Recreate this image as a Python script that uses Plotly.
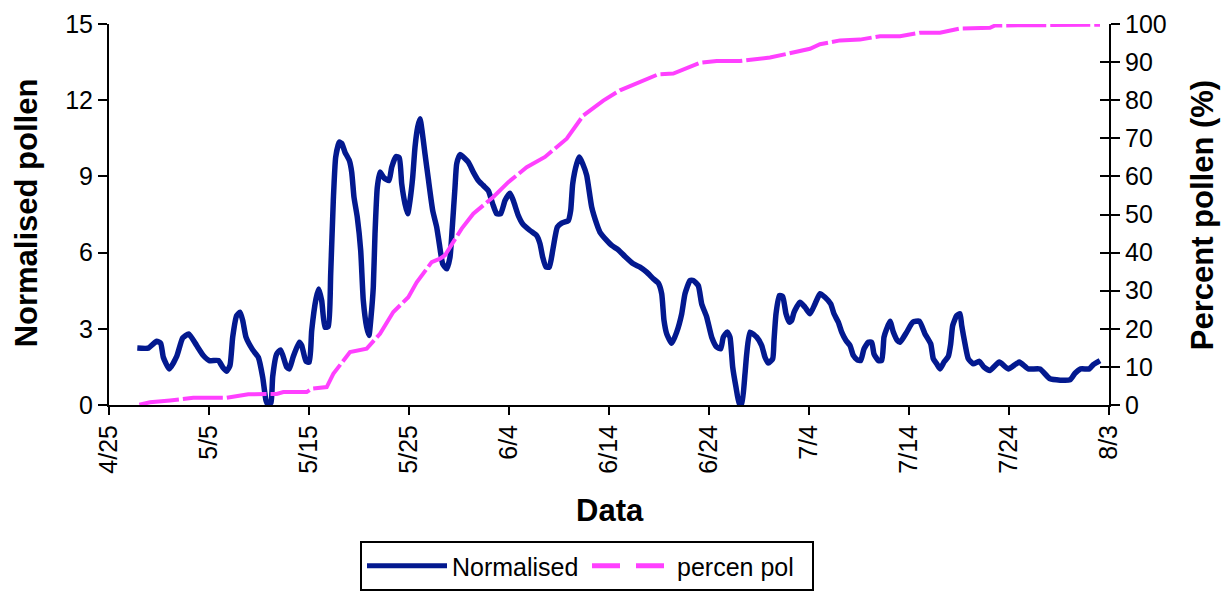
import plotly.graph_objects as go

# x = days since 4/25
tick_vals = [0, 10, 20, 30, 40, 50, 60, 70, 80, 90, 100]
tick_text = ["4/25", "5/5", "5/15", "5/25", "6/4", "6/14", "6/24", "7/4", "7/14", "7/24", "8/3"]

norm_days = [2.83, 3.93, 4.77, 5.17, 5.43, 6.03, 6.77, 7.37, 7.97, 8.77, 9.43, 10.03, 10.93, 11.37, 11.77,
             12.1, 12.37, 12.77, 13.1, 13.37, 13.7, 14.37, 14.93, 15.37, 15.7, 15.93, 16.2, 16.37, 16.77,
             17.17, 17.77, 18.03, 18.43, 19.03, 19.27, 19.7, 20.03, 20.27, 20.7, 20.97, 21.27, 21.6, 21.93,
             22.17, 22.43, 22.67, 23.03, 23.27, 23.6, 24.03, 24.27, 24.5, 24.83, 25.17, 25.43, 25.77, 26.0,
             26.2, 26.43, 26.6, 26.83, 27.1, 27.5, 28.0, 28.27, 28.7, 29.03, 29.27, 29.6, 29.87, 30.1, 30.37,
             30.6, 30.87, 31.1, 31.3, 31.6, 31.93, 32.37, 32.77, 33.03, 33.37, 33.77, 34.1, 34.33, 34.6, 34.77,
             35.1, 35.93, 36.43, 36.93, 37.43, 37.93, 38.37, 38.77, 39.17, 39.6, 40.1, 40.43, 40.93, 41.37,
             42.1, 42.77, 43.1, 43.37, 43.7, 44.03, 44.37, 44.83, 45.27, 45.93, 46.17, 46.37, 46.77, 47.03,
             47.37, 47.77, 48.27, 48.77, 49.1, 49.77, 50.27, 50.93, 51.6, 52.43, 53.1, 53.77, 54.43, 54.93,
             55.27, 55.5, 55.77, 56.27, 56.77, 57.27, 57.6, 58.1, 58.43, 58.93, 59.27, 59.77, 60.27, 60.77,
             61.17, 61.43, 61.83, 62.1, 62.37, 62.7, 63.03, 63.27, 63.6, 63.77, 64.1, 64.77, 65.27, 65.6,
             65.93, 66.37, 66.5, 66.7, 67.03, 67.37, 67.7, 68.03, 68.27, 68.5, 69.1, 69.6, 70.1, 70.6, 71.1,
             71.6, 72.17, 72.5, 72.93, 73.27, 73.7, 74.1, 74.43, 74.83, 75.17, 75.5, 75.93, 76.27, 76.5,
             76.93, 77.27, 77.5, 77.77, 78.1, 78.43, 78.83, 79.1, 79.77, 80.37, 81.03, 81.6, 82.17, 82.43,
             82.77, 83.1, 83.5, 83.93, 84.17, 84.37, 84.77, 85.1, 85.27, 85.6, 85.93, 86.43, 87.03, 87.5,
             88.1, 89.03, 89.93, 91.03, 91.93, 93.1, 94.1, 96.1, 96.6, 97.17, 98.03, 98.43, 99.1]
norm_vals = [2.24, 2.24, 2.51, 2.43, 1.88, 1.42, 1.91, 2.64, 2.80, 2.34, 1.95, 1.75, 1.75, 1.49, 1.33,
             1.56, 2.67, 3.52, 3.65, 3.33, 2.67, 2.17, 1.88, 1.09, 0.18, 0.0, 0.1, 1.12, 2.01,
             2.17, 1.49, 1.42, 1.91, 2.47, 2.34, 1.72, 1.69, 2.93, 4.18, 4.57, 4.11, 3.06, 3.09,
             5.17, 8.05, 9.76, 10.35, 10.3, 9.95, 9.63, 9.17, 8.18, 7.39, 6.08, 4.11, 3.06, 2.74,
             3.46, 4.64, 6.74, 8.57, 9.17, 8.94, 8.84, 9.36, 9.78, 9.73, 8.71, 7.92, 7.53, 8.05, 8.97,
             10.15, 10.94, 11.27, 10.81, 9.89, 8.91, 7.66, 7.0, 6.35, 5.56, 5.36, 5.82, 7.0, 8.57, 9.5,
             9.86, 9.56, 9.17, 8.84, 8.64, 8.44, 7.92, 7.53, 7.53, 8.05, 8.34, 8.05, 7.46, 7.13,
             6.87, 6.67, 6.35, 5.82, 5.43, 5.43, 6.08, 7.0, 7.16, 7.26, 7.66, 8.71, 9.5, 9.76,
             9.5, 9.04, 7.79, 7.13, 6.8, 6.48, 6.28, 6.11, 5.85, 5.56, 5.43, 5.23, 4.97, 4.80,
             4.38, 3.33, 2.80, 2.43, 2.87, 3.59, 4.38, 4.90, 4.90, 4.70, 3.98, 3.46, 2.67, 2.28,
             2.21, 2.67, 2.87, 2.67, 1.49, 0.70, 0.05, 0.05, 1.23, 2.01, 2.87, 2.67, 2.34, 1.88,
             1.65, 1.82, 2.54, 3.59, 4.31, 4.27, 3.59, 3.26, 3.33, 3.65, 4.05, 3.85, 3.59, 3.98, 4.38,
             4.24, 3.98, 3.59, 3.26, 2.87, 2.54, 2.34, 1.95, 1.78, 1.75, 2.21, 2.47, 2.47, 2.01,
             1.75, 1.75, 2.67, 3.0, 3.30, 2.87, 2.54, 2.47, 2.87, 3.26, 3.30, 2.80, 2.41, 1.82,
             1.62, 1.42, 1.69, 1.91, 2.41, 3.13, 3.52, 3.59, 3.13, 2.41, 1.82, 1.62, 1.72, 1.49,
             1.36, 1.69, 1.42, 1.69, 1.42, 1.42, 1.03, 0.99, 1.25, 1.42, 1.42, 1.59, 1.75]

pct_days = [3.03, 4.1, 6.1, 8.1, 8.43, 11.77, 13.93, 16.77, 17.43, 19.77, 20.27, 21.77, 22.43, 24.1,
            25.77, 27.1, 28.43, 29.93, 30.77, 32.27, 33.1, 33.6, 34.1, 35.27, 36.43, 38.43, 39.93, 41.77,
            43.6, 45.77, 47.43, 49.43, 51.1, 53.1, 54.93, 56.43, 59.1, 60.77, 63.1, 66.1, 70.1, 71.1,
            73.1, 75.1, 77.1, 79.1, 81.1, 83.1, 85.1, 88.1, 88.6, 99.1]
pct_vals = [0.1, 0.7, 1.2, 1.6, 1.9, 1.9, 2.8, 2.9, 3.4, 3.4, 4.3, 4.7, 8.2, 13.9,
            14.8, 18.7, 24.4, 28.3, 32.2, 37.5, 38.4, 39.3, 41.4, 46.3, 50.2, 54.6, 58.5, 62.4,
            65.1, 69.9, 76.0, 79.9, 82.6, 84.8, 86.8, 87.0, 89.8, 90.3, 90.3, 91.2, 93.5, 94.7,
            95.7, 95.9, 96.8, 96.8, 97.7, 97.7, 98.8, 99.0, 99.6, 99.8]

x_title = "Data"
y_title = "Normalised pollen"
y2_title = "Percent pollen (%)"

FONT = "Liberation Sans, Arial, sans-serif"
BLUE = "#03198F"
MAG = "#FF40FF"

fig = go.Figure()
fig.add_trace(go.Scatter(x=norm_days, y=norm_vals, mode="lines", name="Normalised",
                         line=dict(color=BLUE, width=5.5, shape="spline", smoothing=0.5), yaxis="y"))
fig.add_trace(go.Scatter(x=pct_days, y=pct_vals, mode="lines", name="percen pol", showlegend=False,
                         line=dict(color=MAG, width=4, dash="40px,4px"), yaxis="y2"))
fig.add_trace(go.Scatter(x=[None], y=[None], mode="lines", name="percen pol",
                         line=dict(color=MAG, width=4, dash="28px,16px"), yaxis="y2"))
fig.add_trace(go.Scatter(x=[None], y=[None], mode="lines", showlegend=False, yaxis="y3"))

title_font = dict(family=FONT, size=31, color="black")

fig.update_layout(
    width=1230, height=591,
    # page body has an 8px offset; margins compensate so the plot area lands at 109..1109 x 24..405
    margin=dict(l=101, r=129, t=16, b=194, autoexpand=False),
    paper_bgcolor="white", plot_bgcolor="white",
    font=dict(family=FONT, size=25, color="black"),
    showlegend=True,
    xaxis=dict(range=[0, 100], tickvals=tick_vals, ticktext=tick_text, tickangle=-90,
               showgrid=False, zeroline=False, showline=True, linecolor="black", linewidth=2,
               ticks="outside", ticklen=8, tickwidth=2, tickcolor="black", automargin=False,
               tickfont=dict(size=25)),
    yaxis=dict(range=[0, 15], tickvals=[0, 3, 6, 9, 12, 15], showgrid=False, zeroline=False,
               showline=True, linecolor="black", linewidth=2, ticks="outside", ticklen=9,
               tickwidth=2, tickcolor="black", tickfont=dict(size=25), automargin=False),
    yaxis2=dict(range=[0, 100], tickvals=list(range(0, 101, 10)), overlaying="y", side="right",
                anchor="x", showgrid=False, zeroline=False, showline=True, linecolor="black",
                linewidth=2, ticks="outside", ticklen=9, tickwidth=2, tickcolor="black",
                tickfont=dict(size=25), automargin=False),
    yaxis3=dict(range=[0, 100], tickvals=list(range(0, 101, 10)), overlaying="y", side="right",
                anchor="x", showgrid=False, zeroline=False, showline=False, ticks="inside",
                ticklen=9, tickwidth=2, tickcolor="black", showticklabels=False, automargin=False),
    legend=dict(orientation="h", x=352 / 1230, y=1 - 533 / 591, xref="container", yref="container",
                xanchor="left", yanchor="top",
                bordercolor="black", borderwidth=2, bgcolor="white",
                font=dict(size=25), itemwidth=80, entrywidth=130, entrywidthmode="pixels",
                tracegroupgap=0, itemsizing="constant"),
    annotations=[
        dict(text="<b>" + y_title + "</b>", xref="paper", yref="paper", x=-0.083, y=0.503,
             textangle=-90, showarrow=False, xanchor="center", yanchor="middle", font=title_font),
        dict(text="<b>" + y2_title + "</b>", xref="paper", yref="paper", x=1.093, y=0.498,
             textangle=-90, showarrow=False, xanchor="center", yanchor="middle", font=title_font),
        dict(text="<b>" + x_title + "</b>", xref="paper", yref="paper", x=0.501, y=-0.277,
             showarrow=False, xanchor="center", yanchor="middle", font=title_font),
    ],
)

fig.write_html("out.html")
